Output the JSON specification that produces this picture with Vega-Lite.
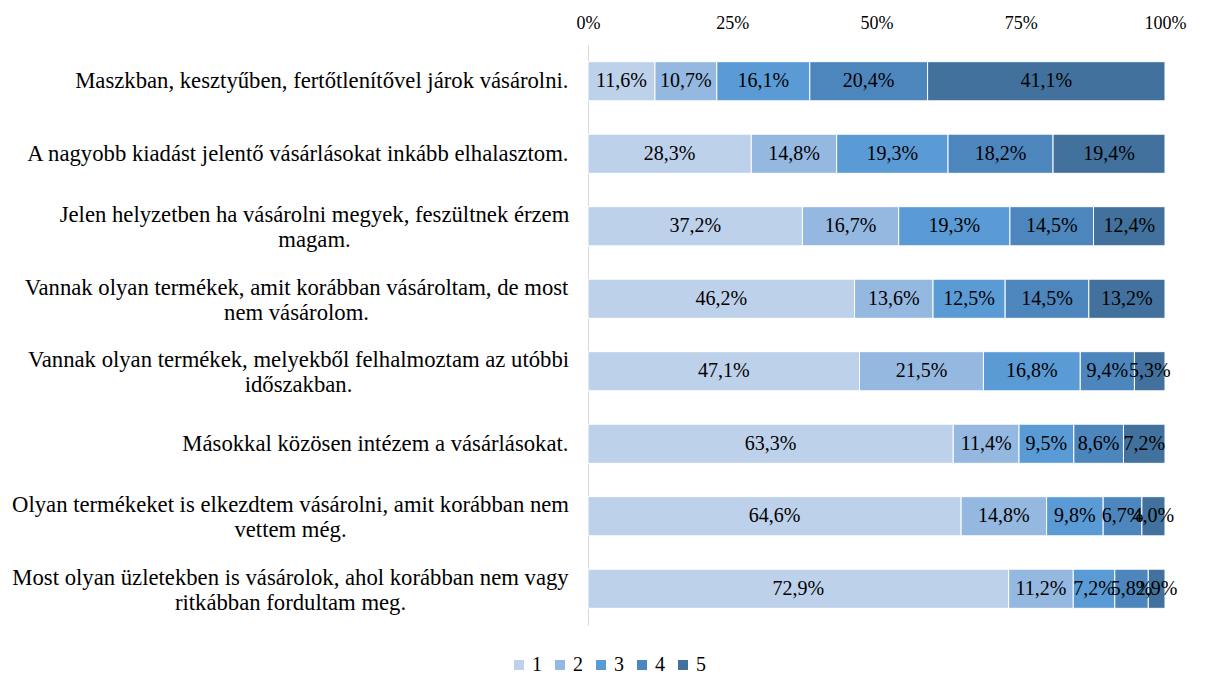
{
  "$schema": "https://vega.github.io/schema/vega-lite/v6.json",
  "autosize": {"type": "none"},
  "width": 577,
  "height": 580,
  "padding": {"left": 588, "top": 45, "right": 42, "bottom": 50},
  "background": "white",
  "config": {
    "view": {"stroke": null},
    "font": "Liberation Serif",
    "axis": {"labelFont": "Liberation Serif"},
    "legend": {"labelFont": "Liberation Serif"},
    "text": {"font": "Liberation Serif"},
    "locale": {"number": {"decimal": ",", "thousands": " ", "grouping": [3], "currency": ["", " Ft"]}}
  },
  "data": {
    "values": [
      {"q": "Maszkban, kesztyűben, fertőtlenítővel járok vásárolni.", "k": "1", "v": 0.116},
      {"q": "Maszkban, kesztyűben, fertőtlenítővel járok vásárolni.", "k": "2", "v": 0.107},
      {"q": "Maszkban, kesztyűben, fertőtlenítővel járok vásárolni.", "k": "3", "v": 0.161},
      {"q": "Maszkban, kesztyűben, fertőtlenítővel járok vásárolni.", "k": "4", "v": 0.204},
      {"q": "Maszkban, kesztyűben, fertőtlenítővel járok vásárolni.", "k": "5", "v": 0.411},
      {"q": "A nagyobb kiadást jelentő vásárlásokat inkább elhalasztom.", "k": "1", "v": 0.283},
      {"q": "A nagyobb kiadást jelentő vásárlásokat inkább elhalasztom.", "k": "2", "v": 0.148},
      {"q": "A nagyobb kiadást jelentő vásárlásokat inkább elhalasztom.", "k": "3", "v": 0.193},
      {"q": "A nagyobb kiadást jelentő vásárlásokat inkább elhalasztom.", "k": "4", "v": 0.182},
      {"q": "A nagyobb kiadást jelentő vásárlásokat inkább elhalasztom.", "k": "5", "v": 0.194},
      {"q": "Jelen helyzetben ha vásárolni megyek, feszültnek érzem|magam.", "k": "1", "v": 0.372},
      {"q": "Jelen helyzetben ha vásárolni megyek, feszültnek érzem|magam.", "k": "2", "v": 0.167},
      {"q": "Jelen helyzetben ha vásárolni megyek, feszültnek érzem|magam.", "k": "3", "v": 0.193},
      {"q": "Jelen helyzetben ha vásárolni megyek, feszültnek érzem|magam.", "k": "4", "v": 0.145},
      {"q": "Jelen helyzetben ha vásárolni megyek, feszültnek érzem|magam.", "k": "5", "v": 0.124},
      {"q": "Vannak olyan termékek, amit korábban vásároltam, de most|nem vásárolom.", "k": "1", "v": 0.462},
      {"q": "Vannak olyan termékek, amit korábban vásároltam, de most|nem vásárolom.", "k": "2", "v": 0.136},
      {"q": "Vannak olyan termékek, amit korábban vásároltam, de most|nem vásárolom.", "k": "3", "v": 0.125},
      {"q": "Vannak olyan termékek, amit korábban vásároltam, de most|nem vásárolom.", "k": "4", "v": 0.145},
      {"q": "Vannak olyan termékek, amit korábban vásároltam, de most|nem vásárolom.", "k": "5", "v": 0.132},
      {"q": "Vannak olyan termékek, melyekből felhalmoztam az utóbbi|időszakban.", "k": "1", "v": 0.471},
      {"q": "Vannak olyan termékek, melyekből felhalmoztam az utóbbi|időszakban.", "k": "2", "v": 0.215},
      {"q": "Vannak olyan termékek, melyekből felhalmoztam az utóbbi|időszakban.", "k": "3", "v": 0.168},
      {"q": "Vannak olyan termékek, melyekből felhalmoztam az utóbbi|időszakban.", "k": "4", "v": 0.094},
      {"q": "Vannak olyan termékek, melyekből felhalmoztam az utóbbi|időszakban.", "k": "5", "v": 0.053},
      {"q": "Másokkal közösen intézem a vásárlásokat.", "k": "1", "v": 0.633},
      {"q": "Másokkal közösen intézem a vásárlásokat.", "k": "2", "v": 0.114},
      {"q": "Másokkal közösen intézem a vásárlásokat.", "k": "3", "v": 0.095},
      {"q": "Másokkal közösen intézem a vásárlásokat.", "k": "4", "v": 0.086},
      {"q": "Másokkal közösen intézem a vásárlásokat.", "k": "5", "v": 0.072},
      {"q": "Olyan termékeket is elkezdtem vásárolni, amit korábban nem|vettem még.", "k": "1", "v": 0.646},
      {"q": "Olyan termékeket is elkezdtem vásárolni, amit korábban nem|vettem még.", "k": "2", "v": 0.148},
      {"q": "Olyan termékeket is elkezdtem vásárolni, amit korábban nem|vettem még.", "k": "3", "v": 0.098},
      {"q": "Olyan termékeket is elkezdtem vásárolni, amit korábban nem|vettem még.", "k": "4", "v": 0.067},
      {"q": "Olyan termékeket is elkezdtem vásárolni, amit korábban nem|vettem még.", "k": "5", "v": 0.040},
      {"q": "Most olyan üzletekben is vásárolok, ahol korábban nem vagy|ritkábban fordultam meg.", "k": "1", "v": 0.729},
      {"q": "Most olyan üzletekben is vásárolok, ahol korábban nem vagy|ritkábban fordultam meg.", "k": "2", "v": 0.112},
      {"q": "Most olyan üzletekben is vásárolok, ahol korábban nem vagy|ritkábban fordultam meg.", "k": "3", "v": 0.072},
      {"q": "Most olyan üzletekben is vásárolok, ahol korábban nem vagy|ritkábban fordultam meg.", "k": "4", "v": 0.058},
      {"q": "Most olyan üzletekben is vásárolok, ahol korábban nem vagy|ritkábban fordultam meg.", "k": "5", "v": 0.029}
    ]
  },
  "encoding": {
    "y": {
      "field": "q",
      "type": "nominal",
      "sort": null,
      "title": null,
      "scale": {"paddingInner": 0.46, "paddingOuter": 0.23},
      "axis": {
        "labelExpr": "split(datum.value, '|')",
        "labelFont": "Liberation Serif",
        "labelFontSize": 22.7,
        "labelColor": "#000000",
        "labelLineHeight": 25,
        "labelLimit": 700,
        "ticks": false,
        "domainColor": "#d9d9d9",
        "domainWidth": 1,
        "labelAlign": {"condition": {"test": "indexof(datum.value, '|') >= 0", "value": "center"}, "value": "right"},
        "labelOffset": {"condition": {"test": "indexof(datum.value, '|') >= 0", "value": -11}, "value": 0},
        "labelPadding": {
          "condition": [
            {"test": "indexof(datum.value, 'Jelen') == 0", "value": 274},
            {"test": "indexof(datum.value, 'de most') >= 0", "value": 292},
            {"test": "indexof(datum.value, 'utóbbi') >= 0", "value": 290},
            {"test": "indexof(datum.value, 'Olyan') == 0", "value": 298},
            {"test": "indexof(datum.value, 'Most') == 0", "value": 298}
          ],
          "value": 20
        }
      }
    }
  },
  "layer": [
    {
      "mark": {"type": "bar", "stroke": "white", "strokeWidth": 1},
      "encoding": {
        "x": {
          "field": "v",
          "type": "quantitative",
          "stack": "normalize",
          "title": null,
          "scale": {"domain": [0, 1]},
          "axis": {
            "orient": "top",
            "values": [0, 0.25, 0.5, 0.75, 1],
            "format": "%",
            "grid": false,
            "domain": false,
            "ticks": false,
            "labelFont": "Liberation Serif",
            "labelFontSize": 18,
            "labelColor": "#000000",
            "labelPadding": 13,
            "labelFlush": false
          }
        },
        "color": {
          "field": "k",
          "type": "nominal",
          "scale": {"domain": ["1", "2", "3", "4", "5"], "range": ["#bdd1ea", "#95b8e0", "#5b9bd5", "#4c86bd", "#41719c"]},
          "legend": {
            "title": null,
            "orient": "none",
            "direction": "horizontal",
            "legendX": -79,
            "legendY": 610,
            "symbolType": "square",
            "symbolSize": 100,
            "symbolStrokeWidth": 0,
            "labelFont": "Liberation Serif",
            "labelFontSize": 20,
            "labelColor": "#000000",
            "labelOffset": 3,
            "columnPadding": 8
          }
        },
        "order": {"field": "k"}
      }
    },
    {
      "mark": {"type": "text", "font": "Liberation Serif", "fontSize": 20, "color": "#000000", "baseline": "middle", "align": "center"},
      "encoding": {
        "x": {"field": "v", "type": "quantitative", "stack": "normalize", "bandPosition": 0.5},
        "text": {"field": "v", "type": "quantitative", "format": ".1%"},
        "order": {"field": "k"},
        "detail": {"field": "k"}
      }
    }
  ]
}
